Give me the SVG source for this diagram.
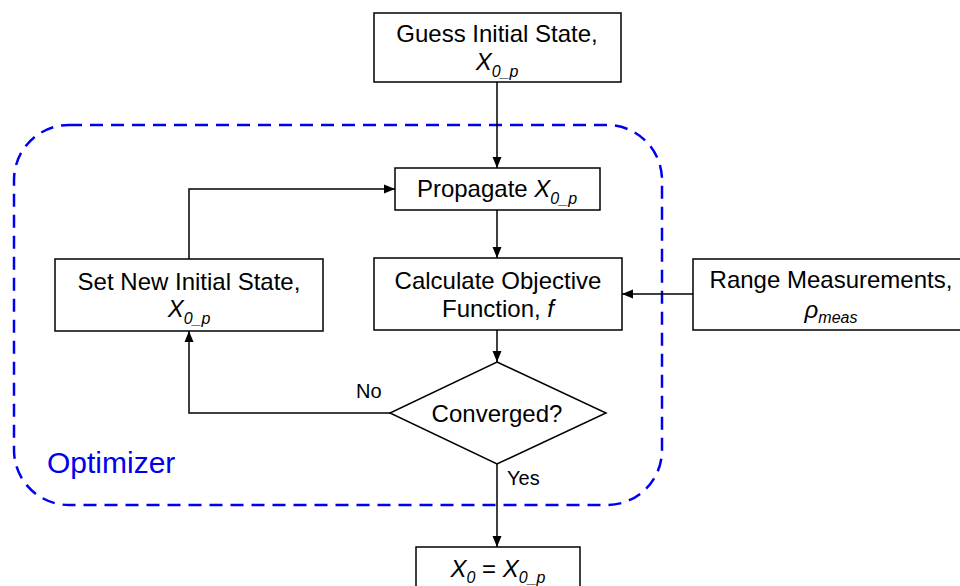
<svg xmlns="http://www.w3.org/2000/svg" width="960" height="586" viewBox="0 0 960 586">
<style>
.box{fill:#fff;stroke:#000;stroke-width:1.5}
.t{font-family:"Liberation Sans",Arial,sans-serif;font-size:24px;fill:#000;text-anchor:middle}
.i{font-style:italic}
.s{font-style:italic;font-size:16px}
.lbl{font-family:"Liberation Sans",Arial,sans-serif;font-size:20px;fill:#000}
.c{fill:none;stroke:#000;stroke-width:1.5}
</style>
<defs>
<marker id="ah" viewBox="0 0 11 10" refX="11" refY="5" markerWidth="11" markerHeight="10" markerUnits="userSpaceOnUse" orient="auto">
<path d="M0,0.5 L11,5 L0,9.5 Z" fill="#000"/>
</marker>
</defs>
<rect id="optimizer" x="14" y="125" width="648" height="380" rx="55" ry="55" fill="none" stroke="#0000ee" stroke-width="2.5" stroke-dasharray="13,8"/>
<text x="47" y="473" font-family="'Liberation Sans',Arial,sans-serif" font-size="30" fill="#0000ee">Optimizer</text>
<g id="connectors">
<path class="c" d="M497,82 V168" marker-end="url(#ah)"/>
<path class="c" d="M497,210 V258" marker-end="url(#ah)"/>
<path class="c" d="M497,330 V362" marker-end="url(#ah)"/>
<path class="c" d="M693,294 H622" marker-end="url(#ah)"/>
<path class="c" d="M390,413 H189 V331" marker-end="url(#ah)"/>
<path class="c" d="M189,259 V189 H395" marker-end="url(#ah)"/>
<path class="c" d="M497,464 V547" marker-end="url(#ah)"/>
<text class="lbl" x="356" y="398">No</text>
<text class="lbl" x="507" y="485">Yes</text>
</g>
<g id="guess">
<rect class="box" x="374" y="13" width="247" height="69"/>
<text class="t" x="497" y="42">Guess Initial State,</text>
<text class="t" x="497" y="70"><tspan class="i">X</tspan><tspan class="s" dy="7">0_p</tspan></text>
</g>
<g id="propagate">
<rect class="box" x="395" y="168" width="205" height="42"/>
<text class="t" x="497" y="197">Propagate <tspan class="i">X</tspan><tspan class="s" dy="7">0_p</tspan></text>
</g>
<g id="setnew">
<rect class="box" x="55" y="259" width="268" height="72"/>
<text class="t" x="189" y="290">Set New Initial State,</text>
<text class="t" x="189" y="317"><tspan class="i">X</tspan><tspan class="s" dy="7">0_p</tspan></text>
</g>
<g id="calculate">
<rect class="box" x="374" y="258" width="248" height="72"/>
<text class="t" x="498" y="289">Calculate Objective</text>
<text class="t" x="498" y="317">Function, <tspan class="i">f</tspan></text>
</g>
<g id="range">
<rect class="box" x="693" y="259" width="275" height="71"/>
<text class="t" x="831" y="288">Range Measurements,</text>
<text class="t" x="831" y="318"><tspan class="i">ρ</tspan><tspan class="s" dy="5">meas</tspan></text>
</g>
<g id="converged">
<path class="box" d="M497,362 L606,413 L497,464 L390,413 Z"/>
<text class="t" x="497" y="422">Converged?</text>
</g>
<g id="final">
<rect class="box" x="416" y="547" width="164" height="60"/>
<text class="t" x="498" y="577"><tspan class="i">X</tspan><tspan class="s" dy="6">0</tspan><tspan dy="-6"> = </tspan><tspan class="i">X</tspan><tspan class="s" dy="6">0_p</tspan></text>
</g>
</svg>
